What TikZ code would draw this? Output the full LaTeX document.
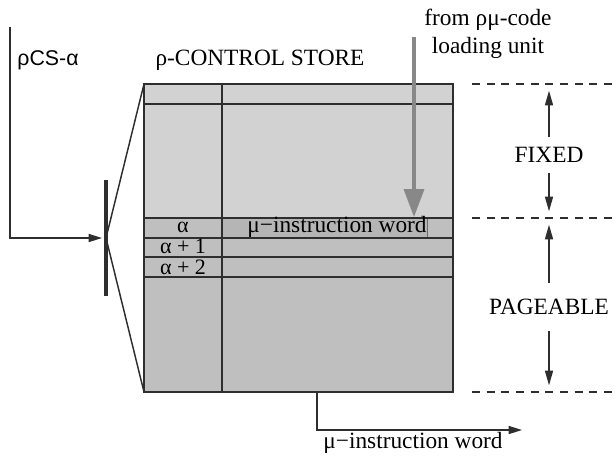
\documentclass[tikz,border=0pt]{standalone}
\usepackage{fontspec}
\setmainfont{Liberation Serif}
\newfontfamily\sansfam{Liberation Sans}
\usetikzlibrary{arrows.meta,positioning,calc}
\definecolor{fixedgray}{HTML}{D2D2D2}
\definecolor{pagegray}{HTML}{BFBFBF}
\definecolor{wordgray}{HTML}{B5B5B5}
\definecolor{loadgray}{HTML}{888888}
\definecolor{inkgray}{HTML}{2E2E2E}
\begin{document}
\begin{tikzpicture}[x=0.75pt, y=-0.75pt, font=\fontsize{17.5}{21}\selectfont,
    cell/.style={draw=inkgray, line width=1.1pt},
    sig/.style={draw=inkgray, line width=1.1pt, -{Triangle[length=10pt,width=6pt]}},
    dimarrow/.style={draw=inkgray, line width=1.1pt, -{Triangle[length=11pt,width=6pt]}, shorten <=4pt, shorten >=5pt},
    rowlab/.style={inner sep=0pt, font=\fontsize{16.5}{19}\selectfont},
    level/.style={draw=inkgray, line width=1pt, dash pattern=on 6pt off 5pt}]
        \useasboundingbox (0,0) rectangle (616,455);
        \coordinate (csTL) at (144,84);
        \coordinate (csBL) at (144,392);
        \coordinate (csBR) at (453,392);
        \fill[fixedgray] (csTL) rectangle (453,218);
        \fill[pagegray] (144,218) rectangle (csBR);
        \fill[wordgray] (222,218) rectangle (427,238);
        \draw[inkgray!70, line width=0.6pt] (427,218) -- (427,238);
        \draw[cell] (csTL) rectangle (csBR);
        \draw[cell] (222,84) -- (222,392);
        \foreach \y in {104,218,238,257,277}{
          \draw[cell] (144,\y) -- (453,\y);
        }
        \node[rowlab] (rowA) at (183,227) {α};
        \node[rowlab] (rowB) at (183,246) {α + 1};
        \node[rowlab] (rowC) at (183,267) {α + 2};
        \node[rowlab, font=\fontsize{17.5}{21}\selectfont] (rowWord) at (337,227) {μ−instruction word};
        \node (csName) at (260,60) {ρ-CONTROL STORE};
        \node[font=\sansfam\fontsize{16}{19}\selectfont] (csAddr) at (48,60) {ρCS-α};
        \node[align=center] (loadSrc) at (488,34) {from ρμ-code\\loading unit};
        \coordinate (loadTop) at (414,37);
        \coordinate (loadEnd) at (414,217);
        \draw[loadgray, line width=2.6pt, -{Triangle[length=21pt,width=15pt]}] (loadTop) -- (loadEnd);
        \coordinate (addrTop) at (10,27);
        \coordinate (fan) at (106,238);
        \draw[sig, shorten >=3pt] (addrTop) |- (fan);
        \coordinate (barTop) at (106,180);
        \coordinate (barBot) at (106,296);
        \draw[inkgray, line width=3pt] (barTop) -- (barBot);
        \draw[cell] (fan) -- (csTL);
        \draw[cell] (fan) -- (csBL);
        \coordinate (outSrc) at (317,392);
        \coordinate (outEnd) at (522,430);
        \draw[sig] (outSrc) |- (outEnd);
        \node[inner sep=1pt] (outWord) at (413,443) {μ−instruction word};
        \foreach \y/\n in {84/fixTop, 218/fixBot, 392/pageBot}{
          \coordinate (\n) at (549,\y);
          \draw[level] (472,\y) -- (616,\y);
        }
        \node (fixLab) at (549,155) {FIXED};
        \node[inner ysep=8pt] (pageLab) at (549,307) {PAGEABLE};
        \draw[dimarrow] (fixLab) -- (fixTop);
        \draw[dimarrow] (fixLab) -- (fixBot);
        \draw[dimarrow] (pageLab) -- (fixBot);
        \draw[dimarrow] (pageLab) -- (pageBot);
      \end{tikzpicture}
\end{document}
